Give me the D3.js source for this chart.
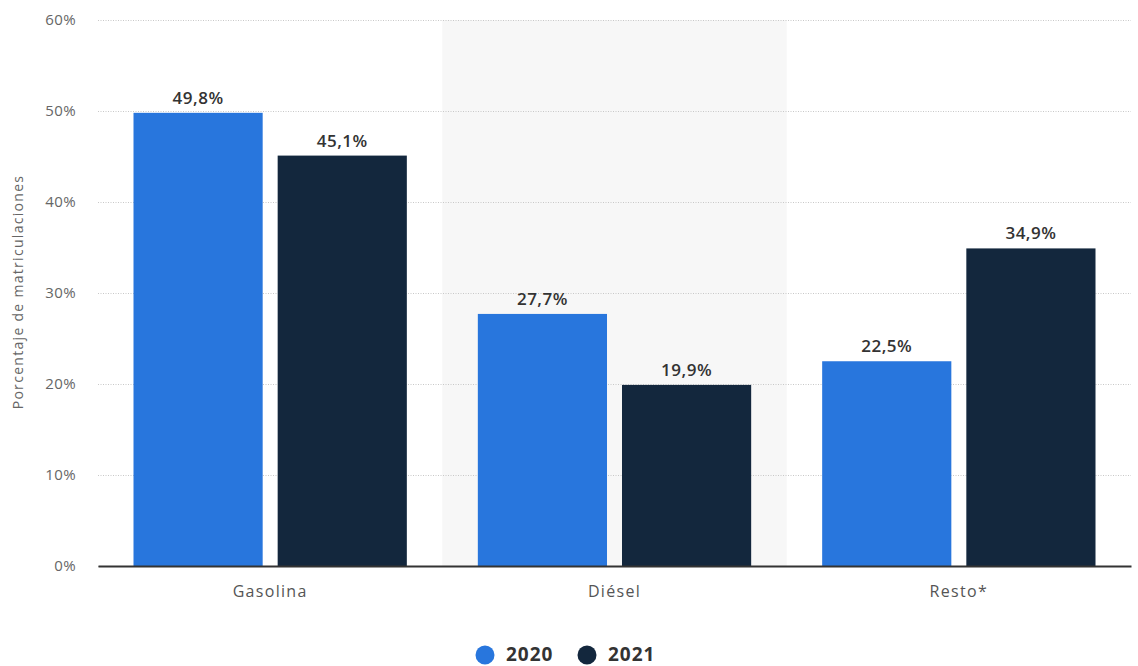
<!DOCTYPE html>
<html>
<head>
<meta charset="utf-8">
<script src="https://cdn.jsdelivr.net/npm/d3@7"></script>
<style>
  body { margin: 0; background: #fff; font-family: "Open Sans", sans-serif; }
</style>
</head>
<body>
<div id="graph"></div>
<script>
// chart values
var categories = ["Gasolina", "Diésel", "Resto*"];
var years = ["2020", "2021"];
var values2020 = [49.8, 27.7, 22.5];
var values2021 = [45.1, 19.9, 34.9];
var yTicks = [0, 10, 20, 30, 40, 50, 60];
var colors = ["#2876dd", "#13273d"];

var width = 1138;
var height = 666;
var margin = {top: 20, right: 7, bottom: 100, left: 98};

var svg = d3.select('#graph')
    .append('svg')
    .attr('width', width)
    .attr('height', height);

var innerW = width - margin.left - margin.right;
var innerH = height - margin.top - margin.bottom;

var g = svg.append('g')
    .attr('transform', 'translate(' + margin.left + ',' + margin.top + ')');

var xScale = d3.scaleBand().domain(categories).range([0, innerW]).padding(0);
var xInner = d3.scaleBand().domain(years)
    .range([35.5, xScale.bandwidth() - 35.5])
    .paddingInner(0.104);
var yScale = d3.scaleLinear().domain([0, 60]).range([innerH, 0]);

// shaded middle band
g.append('rect')
    .attr('x', xScale(categories[1]))
    .attr('y', 0)
    .attr('width', xScale.bandwidth())
    .attr('height', innerH)
    .attr('fill', '#f7f7f7');

// grid lines + y ticks
var yAxis = d3.axisLeft(yScale)
    .tickValues(yTicks)
    .tickSize(-innerW)
    .tickPadding(22)
    .tickFormat(function(d) { return d + '%'; });

var yg = g.append('g').call(yAxis);
yg.select('.domain').remove();
yg.selectAll('line')
    .attr('stroke', '#c8c8c8')
    .attr('stroke-dasharray', '1,1.5');
yg.selectAll('text')
    .attr('fill', '#666')
    .style('font-family', '"Open Sans", sans-serif')
    .style('font-size', '15px')
    .style('letter-spacing', '0.4px');

// build table of bars
var table = [];
categories.forEach(function(c, i) {
    table.push({cat: c, year: years[0], value: values2020[i], color: colors[0]});
    table.push({cat: c, year: years[1], value: values2021[i], color: colors[1]});
});

g.append('g')
    .selectAll('rect')
    .data(table)
    .enter()
    .append('rect')
    .attr('x', function(d) { return xScale(d.cat) + xInner(d.year); })
    .attr('y', function(d) { return yScale(d.value); })
    .attr('width', xInner.bandwidth())
    .attr('height', function(d) { return innerH - yScale(d.value); })
    .attr('fill', function(d) { return d.color; });

g.append('g')
    .selectAll('text')
    .data(table)
    .enter()
    .append('text')
    .attr('x', function(d) { return xScale(d.cat) + xInner(d.year) + xInner.bandwidth() / 2; })
    .attr('y', function(d) { return yScale(d.value) - 9; })
    .attr('text-anchor', 'middle')
    .attr('fill', '#333')
    .style('font-size', '17px')
    .style('font-weight', '600')
    .style('letter-spacing', '0.5px')
    .text(function(d) { return d.value.toFixed(1).replace('.', ',') + '%'; });

// x axis
var xAxis = d3.axisBottom(xScale).tickSize(0).tickPadding(20);
var xg = g.append('g')
    .attr('transform', 'translate(0,' + innerH + ')')
    .call(xAxis);
xg.select('.domain')
    .attr('stroke', '#333')
    .attr('stroke-width', 2);
xg.selectAll('text')
    .attr('fill', '#555')
    .style('font-family', '"Open Sans", sans-serif')
    .style('font-size', '16px')
    .style('letter-spacing', '1.3px');

// y axis title
svg.append('text')
    .attr('transform', 'translate(23,292) rotate(-90)')
    .attr('text-anchor', 'middle')
    .attr('fill', '#666')
    .style('font-size', '14px')
    .style('letter-spacing', '1.3px')
    .text('Porcentaje de matriculaciones');

// legend
var legend = svg.append('g');
var legendX = [485, 587];
years.forEach(function(y, i) {
    legend.append('circle')
        .attr('cx', legendX[i])
        .attr('cy', 655)
        .attr('r', 9.5)
        .attr('fill', colors[i]);
    legend.append('text')
        .attr('x', legendX[i] + 21)
        .attr('y', 661)
        .attr('fill', '#333')
        .style('font-size', '19px')
        .style('font-weight', 'bold')
        .style('letter-spacing', '1px')
        .text(y);
});
</script>
</body>
</html>
